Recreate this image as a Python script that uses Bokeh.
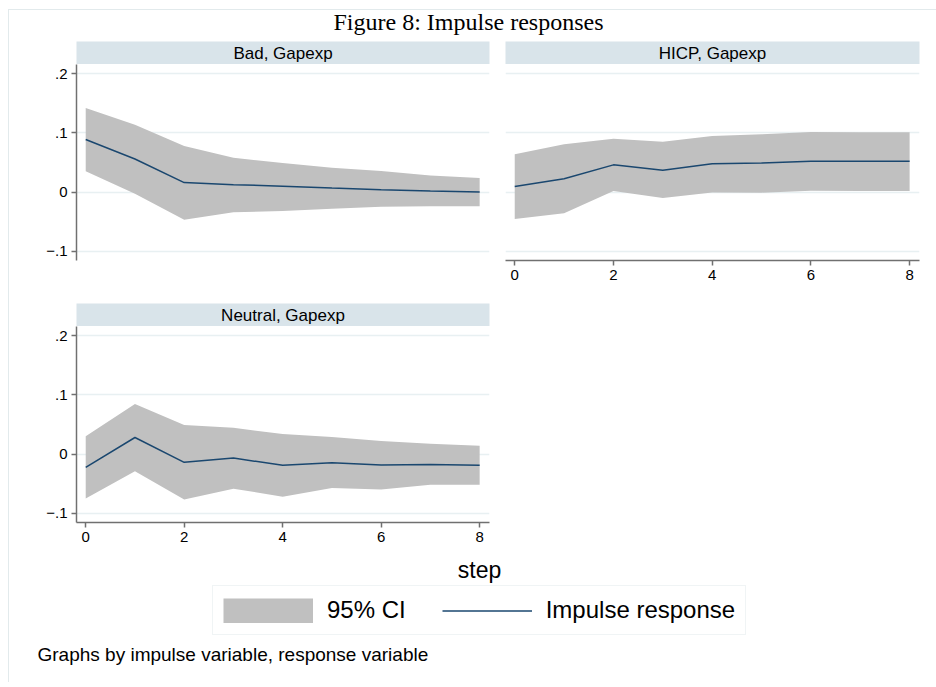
from bokeh.plotting import figure
from bokeh.layouts import column, row
from bokeh.models import (Range1d, FixedTicker, CustomJSTickFormatter, Grid, Legend,
                          LegendItem, LinearAxis, Label, Spacer)
from bokeh.core.properties import value
from bokeh.embed import file_html
from bokeh.resources import INLINE

FONT = "Liberation Sans"

# ---------------- data ----------------
steps = [0, 1, 2, 3, 4, 5, 6, 7, 8]
panel_titles = ["Bad, Gapexp", "HICP, Gapexp", "Neutral, Gapexp"]

bad_irf = [0.089, 0.056, 0.016, 0.0125, 0.010, 0.0068, 0.004, 0.0017, 0.0]
bad_lo = [0.035, -0.003, -0.047, -0.034, -0.032, -0.028, -0.025, -0.024, -0.024]
bad_hi = [0.142, 0.114, 0.078, 0.058, 0.049, 0.041, 0.0355, 0.028, 0.024]

hicp_irf = [0.0096, 0.0226, 0.046, 0.037, 0.048, 0.049, 0.052, 0.052, 0.052]
hicp_lo = [-0.0457, -0.036, 0.0017, -0.010, -0.0006, -0.001, 0.0023, 0.0017, 0.0017]
hicp_hi = [0.064, 0.081, 0.090, 0.085, 0.095, 0.0976, 0.1015, 0.101, 0.101]

neu_irf = [-0.0225, 0.028, -0.014, -0.0068, -0.019, -0.0146, -0.0186, -0.0175, -0.019]
neu_lo = [-0.075, -0.029, -0.077, -0.0586, -0.072, -0.0575, -0.060, -0.052, -0.052]
neu_hi = [0.030, 0.0845, 0.049, 0.0445, 0.0338, 0.0287, 0.022, 0.0175, 0.014]

y_ticks = [-0.1, 0.0, 0.1, 0.2]
x_ticks = [0, 2, 4, 6, 8]

title_text = "Figure 8: Impulse responses"
x_label = "step"
legend_labels = ["95% CI", "Impulse response"]
note_text = "Graphs by impulse variable, response variable"

# ---------------- style ----------------
CI_COLOR = "#c0c0c0"
LINE_COLOR = "#1a476f"
STRIP = "#d9e4ea"
GRID = "#e8f0f2"
AXIS = "#707070"
BOX = "#e2eaec"

FRAME_H = 196
X_RANGE = (-0.187, 8.2)
Y_RANGE = (-0.1157, 0.2157)

yfmt = CustomJSTickFormatter(code="""
if (Math.abs(tick) < 1e-9) return "0";
let s = tick.toFixed(1);
if (s.startsWith("-0")) return "\\u2212" + s.slice(2);
if (s.startsWith("0")) return s.slice(1);
return s;
""")


def no_grid(f):
    f.xgrid.visible = False
    f.ygrid.visible = False
    return f


def axis_kw():
    return dict(axis_line_color=AXIS, axis_line_width=1.5,
                major_tick_line_color=AXIS, major_tick_line_width=1.5,
                major_tick_out=5, major_tick_in=0, minor_tick_out=0, minor_tick_in=0,
                major_label_text_font=FONT, major_label_text_font_size="15px",
                major_label_text_color="black", major_label_standoff=4)


def make_panel(idx, irf, lo, hi, width, bl, br, bb, show_x, show_y):
    hdr = no_grid(figure(width=width, height=23, x_range=Range1d(0, 1), y_range=Range1d(0, 1),
                         min_border_left=bl, min_border_right=br, min_border_top=0,
                         min_border_bottom=0, toolbar_location=None, output_backend="svg",
                         x_axis_location=None, y_axis_location=None,
                         background_fill_color=STRIP, border_fill_color="white",
                         outline_line_color=None))
    hdr.text(x=[0.5], y=[0.5], text=[panel_titles[idx]], text_align="center",
             text_baseline="middle", text_font=value(FONT), text_font_size="17px",
             text_color="black")

    p = no_grid(figure(width=width, height=FRAME_H + bb,
                       x_range=Range1d(*X_RANGE), y_range=Range1d(*Y_RANGE),
                       min_border_left=bl, min_border_right=br, min_border_top=0,
                       min_border_bottom=bb, toolbar_location=None, output_backend="svg",
                       x_axis_location=None, y_axis_location=None,
                       background_fill_color="white", border_fill_color="white",
                       outline_line_color=None))
    p.add_layout(Grid(dimension=1, ticker=FixedTicker(ticks=y_ticks),
                      grid_line_color=GRID, grid_line_width=1.3))
    if show_y:
        p.add_layout(LinearAxis(ticker=FixedTicker(ticks=y_ticks), formatter=yfmt, **axis_kw()), "left")
    if show_x:
        p.add_layout(LinearAxis(ticker=FixedTicker(ticks=x_ticks), **axis_kw()), "below")
    p.varea(x=steps, y1=lo, y2=hi, fill_color=CI_COLOR, fill_alpha=1.0)
    p.line(x=steps, y=irf, line_color=LINE_COLOR, line_width=1.5)
    return column(hdr, p, spacing=0)


# top strip with title
top = no_grid(figure(width=927, height=31, x_range=Range1d(0, 927), y_range=Range1d(0, 31),
                     min_border=0, toolbar_location=None, output_backend="svg",
                     x_axis_location=None, y_axis_location=None, outline_line_color=None))
top.add_layout(Label(x=459, y=20, x_units="screen", y_units="screen", text=title_text,
                     text_align="center", text_baseline="alphabetic",
                     text_font="Liberation Serif", text_font_size="24px", text_color="black"))

p1 = make_panel(0, bad_irf, bad_lo, bad_hi, 488, 67, 8, 43, False, True)
p2 = make_panel(1, hicp_irf, hicp_lo, hicp_hi, 438, 8, 16, 43, True, False)
p3 = make_panel(2, neu_irf, neu_lo, neu_hi, 488, 67, 8, 30, True, True)

# bottom strip: x title, legend, note
BH = 130
bottom = no_grid(figure(width=927, height=BH, x_range=Range1d(0, 927), y_range=Range1d(40, BH + 40),
                        min_border=0, toolbar_location=None, output_backend="svg",
                        x_axis_location=None, y_axis_location=None, outline_line_color=None))
bottom.add_layout(Label(x=470, y=BH - 17, x_units="screen", y_units="screen", text=x_label,
                        text_align="center", text_baseline="middle",
                        text_font=FONT, text_font_size="23px", text_color="black"))
bottom.add_layout(Label(x=28, y=BH - 102, x_units="screen", y_units="screen", text=note_text,
                        text_align="left", text_baseline="middle",
                        text_font=FONT, text_font_size="19px", text_color="black"))
# legend keys: series placed below the visible range (clipped), only legend glyphs show
ci_r = bottom.varea(x=steps, y1=neu_lo, y2=neu_hi, fill_color=CI_COLOR, fill_alpha=1.0)
ci_key = bottom.line(x=steps, y=neu_lo, line_color=CI_COLOR, line_width=25, line_cap="butt")
ln_r = bottom.line(x=steps, y=neu_irf, line_color=LINE_COLOR, line_width=1.5)
legend = Legend(items=[LegendItem(label=legend_labels[0], renderers=[ci_r, ci_key]),
                       LegendItem(label=legend_labels[1], renderers=[ln_r])],
                orientation="horizontal", location=(203, BH - 83),
                glyph_width=90, glyph_height=25, label_standoff=14, spacing=36,
                padding=10, margin=0, border_line_color=BOX, border_line_width=1,
                background_fill_color="white", background_fill_alpha=1.0,
                label_text_font=FONT, label_text_font_size="24px", label_height=25,
                label_text_color="black")
bottom.add_layout(legend)

inner = column(top, row(p1, p2, spacing=0), p3, bottom, spacing=0,
               styles={"border-left": f"1px solid {BOX}", "border-top": f"1px solid {BOX}"})
layout = column(Spacer(width=936 - 1, height=9),
                row(Spacer(width=8, height=10), inner, spacing=0),
                spacing=0)

open("out.html", "w").write(file_html(layout, INLINE))
